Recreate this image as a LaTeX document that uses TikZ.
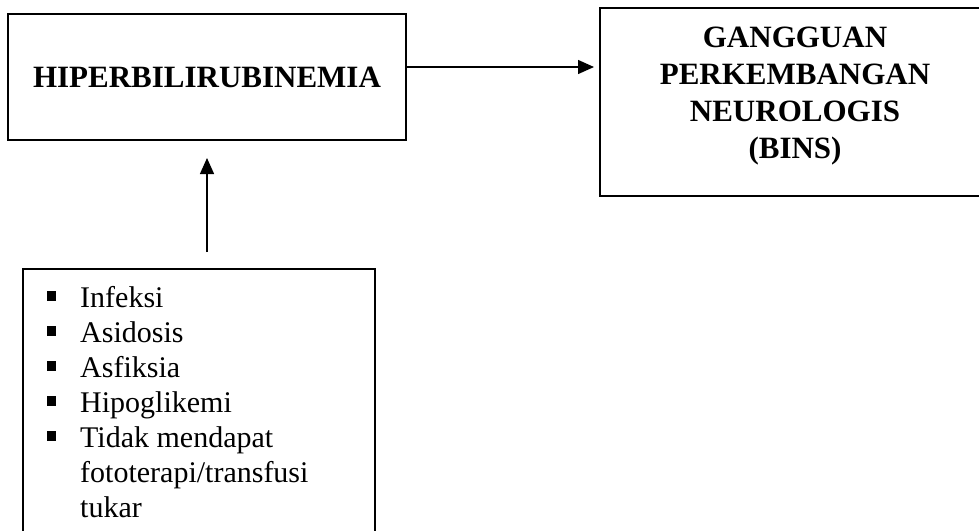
\documentclass[tikz,border=0pt]{standalone}
\usepackage{fontspec}
\setmainfont{Liberation Serif}
\usetikzlibrary{positioning,arrows.meta}

\newcommand{\sqbul}{\makebox[33pt][l]{\rule[6pt]{9pt}{10pt}}}

\begin{document}
\begin{tikzpicture}[
        x=1pt, y=1pt,
        box/.style = {draw, line width=1.3pt, inner sep=0pt, outer sep=0pt, anchor=north west},
        arr/.style = {line width=1.3pt, -{Triangle[length=16pt,width=14pt]}},
        title/.style = {font=\fontsize{31}{37}\selectfont\bfseries, align=center}
    ]
        \clip (0,0) rectangle (979,-530);
%
        \node (box1) [box, title, minimum width=398pt, minimum height=126pt] at (8,-14)  {HIPERBILIRUBINEMIA};
        \node (box2) [box, minimum width=390pt, minimum height=188pt] at (600,-8) {};
        \node (t2)   [title, inner sep=0pt] at (795,-96) {GANGGUAN\\PERKEMBANGAN\\NEUROLOGIS\\(BINS)};
        \node (box3) [box, minimum width=352pt, minimum height=300pt] at (23,-269) {};
        \node (lst)  [font=\fontsize{30}{35}\selectfont, align=left, anchor=north west, inner sep=0pt] at (47,-286)
            {\sqbul Infeksi\\
             \sqbul Asidosis\\
             \sqbul Asfiksia\\
             \sqbul Hipoglikemi\\
             \sqbul Tidak mendapat\\
             \hspace*{33pt}fototerapi/transfusi\\
             \hspace*{33pt}tukar};
%
        \coordinate (h1) at ([yshift=10pt]box1.east);
        \draw[arr, shorten >=6pt] (h1) -- (h1 -| box2.west);
        \draw[arr, shorten <=17pt, shorten >=18pt] (box3.north -| box1.south) -- (box1.south);
    \end{tikzpicture}
\end{document}
